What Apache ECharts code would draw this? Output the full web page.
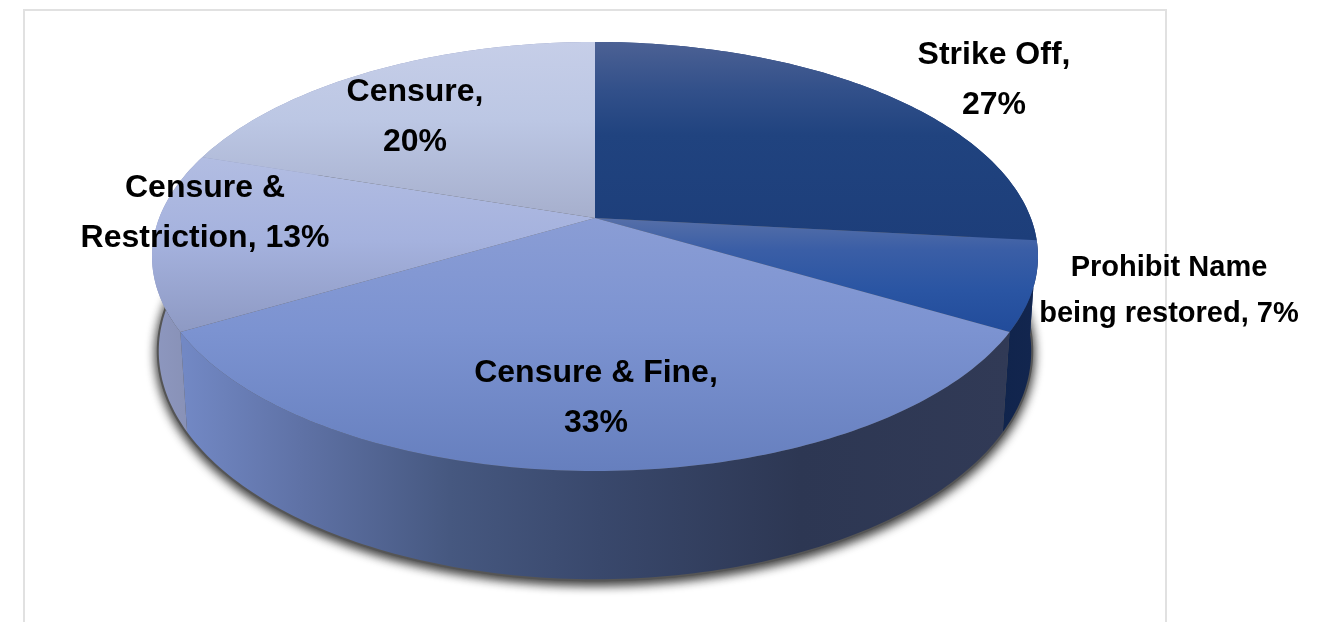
<!DOCTYPE html>
<html>
<head>
<meta charset="utf-8">
<style>html,body{margin:0;padding:0;background:#fff}#c{width:1319px;height:622px}</style>
<script src="https://cdn.jsdelivr.net/npm/echarts@6/dist/echarts.min.js"></script>
</head>
<body>
<div id="c"></div>
<script>
// Data
const categories = ['Strike Off', 'Prohibit Name being restored', 'Censure & Fine', 'Censure & Restriction', 'Censure'];
const shares = [26.67, 6.67, 33.33, 13.33, 20];
const labelTexts = ['Strike Off,\n27%', 'Prohibit Name\nbeing restored, 7%', 'Censure & Fine,\n33%', 'Censure &\nRestriction, 13%', 'Censure,\n20%'];

// Layout + style
const labelCentres = [[994, 80], [1169, 291], [596, 398], [205, 213], [415, 117]];
const labelLineHeights = [50, 46, 50, 50, 50];
const labelFonts = [32, 29, 32, 32, 32];
const view = { cx: 595, cy: 218, A: 435.8, B: 207.6, k: 0.1794, C: 94.2, m: 0.015 };
const topStops = [
  [[42, '#4c6194'], [90, '#32508a'], [135, '#20437f'], [240, '#1d3e7a']],
  [[218, '#566fa8'], [250, '#3a5ea6'], [290, '#2a55a3'], [335, '#214b9a']],
  [[218, '#8a9dd5'], [330, '#7c93d1'], [471, '#667fbe']],
  [[157, '#b2bde2'], [240, '#a5b2de'], [330, '#8e9ac4']],
  [[42, '#c6cee8'], [120, '#bcc7e4'], [218, '#a6afcd']]
];
const wallStops = [
  [[880, '#1e3c78'], [1040, '#1e3c78']],
  [[1000, '#10244c'], [1040, '#13264f']],
  [[185, '#7288c4'], [300, '#5f72a6'], [450, '#465880'], [600, '#39486c'], [800, '#2d3753'], [1010, '#313a56']],
  [[155, '#8d97bf'], [190, '#8891b6']],
  [[200, '#8d97bf'], [595, '#8d97bf']]
];

function project(deg, h) {
  const t = deg * Math.PI / 180, u = Math.sin(t), v = Math.cos(t);
  const w = 1 + view.k * v + view.m * h;
  return [view.cx + view.A * u / w, view.cy + (-view.B * v + view.C * h) / w];
}
function arc(a0, a1, h) {
  const pts = [], n = Math.max(2, Math.ceil(Math.abs(a1 - a0)));
  for (let i = 0; i <= n; i++) pts.push(project(a0 + (a1 - a0) * i / n, h));
  return pts;
}
function grad(stops, x0, y0, x1, y1, lo, hi) {
  return new echarts.graphic.LinearGradient(x0, y0, x1, y1,
    stops.map(s => ({ offset: (s[0] - lo) / (hi - lo), color: s[1] })), true);
}
const total = shares.reduce((a, b) => a + b, 0);
let run = 0;
const sliceData = shares.map(v => { const d = [v, run]; run += v; return d; });
const angles = api => {
  const a0 = api.value(1) / total * 360;
  return [a0, a0 + api.value(0) / total * 360];
};

const option = {
  animation: false,
  backgroundColor: '#fff',
  graphic: [{
    type: 'rect', z: -1, silent: true,
    shape: { x: 24, y: 10, width: 1142, height: 700 },
    style: { fill: 'none', stroke: '#e1e1e1', lineWidth: 2 }
  }],
  series: [
    { // drop shadow under the body
      type: 'custom', coordinateSystem: 'none', silent: true, z: 1,
      data: [[1]],
      renderItem: () => ({
        type: 'polygon',
        shape: { points: arc(0, 360, 1) },
        style: { fill: '#555', stroke: '#555', lineWidth: 4, shadowColor: 'rgba(0,0,0,0.9)', shadowBlur: 11, shadowOffsetY: 3, shadowOffsetX: 0 }
      })
    },
    { // outer walls
      type: 'custom', coordinateSystem: 'none', silent: true, z: 2,
      data: sliceData,
      renderItem: (params, api) => {
        const [a0, a1] = angles(api);
        const stops = wallStops[params.dataIndex];
        const lo = stops[0][0], hi = stops[stops.length - 1][0];
        return {
          type: 'polygon',
          shape: { points: arc(a0, a1, 0).concat(arc(a1, a0, 1)) },
          style: { fill: grad(stops, lo, 0, hi, 0, lo, hi) }
        };
      }
    },
    { // top faces
      type: 'custom', coordinateSystem: 'none', silent: true, z: 3,
      data: sliceData,
      renderItem: (params, api) => {
        const [a0, a1] = angles(api);
        const stops = topStops[params.dataIndex];
        const lo = stops[0][0], hi = stops[stops.length - 1][0];
        return {
          type: 'polygon',
          shape: { points: [[view.cx, view.cy]].concat(arc(a0, a1, 0)) },
          style: { fill: grad(stops, 0, lo, 0, hi, lo, hi) }
        };
      }
    },
    { // data labels
      type: 'custom', coordinateSystem: 'none', silent: true, z: 4,
      data: sliceData,
      renderItem: (params) => {
        const i = params.dataIndex;
        return {
          type: 'text',
          style: {
            text: labelTexts[i], x: labelCentres[i][0], y: labelCentres[i][1],
            align: 'center', verticalAlign: 'middle',
            font: 'bold ' + labelFonts[i] + 'px "Liberation Sans", Arial, sans-serif',
            lineHeight: labelLineHeights[i], fill: '#000'
          }
        };
      }
    }
  ]
};
echarts.init(document.getElementById('c'), null, { renderer: 'canvas' }).setOption(option);
</script>
</body>
</html>
